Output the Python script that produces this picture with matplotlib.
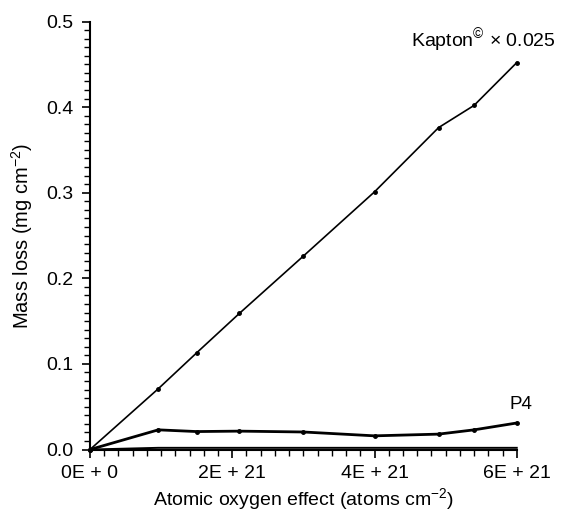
import numpy as np
import matplotlib
matplotlib.use('Agg')
import matplotlib.pyplot as plt
from matplotlib.ticker import MultipleLocator

plt.rcParams['font.family'] = ['Liberation Sans', 'DejaVu Sans']
plt.rcParams['mathtext.fontset'] = 'custom'
plt.rcParams['mathtext.rm'] = 'Liberation Sans'

# fluence in units of 1E21 atoms cm-2
fluence = [0, 0.96, 1.5, 2.1, 3.0, 4.0, 4.9, 5.4, 6.0]
kapton = [0, 0.071, 0.113, 0.159, 0.226, 0.301, 0.376, 0.402, 0.452]
p4 = [0, 0.023, 0.021, 0.0215, 0.0205, 0.016, 0.018, 0.023, 0.031]
base = [0, 0.002, 0.002, 0.002, 0.002, 0.002, 0.002, 0.002, 0.002]

xticks = [0, 2, 4, 6]
xticklabels = ['0E + 0', '2E + 21', '4E + 21', '6E + 21']
yticks = [0.0, 0.1, 0.2, 0.3, 0.4, 0.5]

fig = plt.figure(figsize=(5.66, 5.12), dpi=100)
ax = fig.add_axes([0.159, 0.122, 0.754, 0.836])

ax.plot(fluence, kapton, color='black', lw=1.2, marker='o', ms=2.5)
ax.plot(fluence, p4, color='black', lw=2.0, marker='o', ms=2.5)
ax.plot(fluence, base, color='black', lw=1.4)

ax.set_xlim(0, 6)
ax.set_ylim(0, 0.5)
ax.set_xticks(xticks)
ax.set_xticklabels(xticklabels)
ax.set_yticks(yticks)
ax.set_yticklabels(['%.1f' % v for v in yticks])
ax.xaxis.set_minor_locator(MultipleLocator(0.2))
ax.yaxis.set_minor_locator(MultipleLocator(0.01))
ax.tick_params(which='major', direction='out', length=6, width=1.2, labelsize=14)
ax.tick_params(axis='y', which='major', pad=6)
ax.tick_params(axis='x', which='major', pad=5)
ax.tick_params(which='minor', direction='out', length=4, width=1.0)

for s in ['top', 'right']:
    ax.spines[s].set_visible(False)
for s in ['left', 'bottom']:
    ax.spines[s].set_linewidth(1.5)

ax.set_xlabel('Atomic oxygen effect (atoms cm$^{\\mathregular{-2}}$)', fontsize=14, labelpad=3)
ax.set_ylabel('Mass loss (mg cm$^{\\mathregular{-2}}$)', fontsize=14.5, labelpad=8)

ax.text(4.51, 0.477, 'Kapton$^{\\mathregular{©}}$ × 0.025', fontsize=14, va='center', ha='left')
ax.text(5.9, 0.053, 'P4', fontsize=13.5, va='center', ha='left')

for a in ax.get_children():
    if hasattr(a, 'set_clip_on'):
        a.set_clip_on(False)

fig.savefig('out.png', dpi=100)
